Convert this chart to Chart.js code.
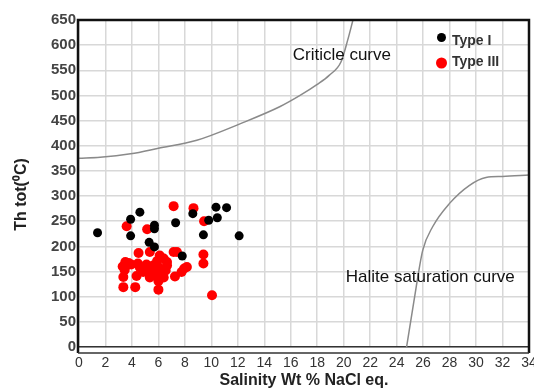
<!DOCTYPE html>
<html>
<head>
<meta charset="utf-8">
<script src="https://cdn.jsdelivr.net/npm/chart.js@4.4.0/dist/chart.umd.min.js"></script>
<style>
  html, body { margin: 0; padding: 0; background: #fff; }
  #wrap { width: 534px; height: 389px; }
</style>
</head>
<body>
<div id="wrap"><canvas id="chart" width="534" height="389"></canvas></div>
<script>
// Type I inclusions (salinity wt% NaCl eq. vs Th tot °C)
const typeISal = [1.4, 4.6, 3.9, 3.9, 5.7, 5.7, 5.3, 5.7, 7.3, 8.6, 10.35, 11.15, 9.8, 10.45, 9.4, 12.1, 7.8];
const typeITh  = [227, 268, 254, 221, 242, 235, 208, 199, 247, 265, 278, 277, 252, 257, 223, 221, 181];

// Type III inclusions
const typeIIISal = [7.15, 8.65, 9.45, 3.6, 5.15, 4.5, 5.35, 7.15, 7.4, 9.4, 9.4, 8.15, 7.95, 7.75, 7.25, 10.05,
  3.5, 3.75, 3.3, 3.6, 3.95, 3.45, 4.45, 4.6, 5.1, 5.25, 5.6, 5.9, 6.0, 6.4, 6.65, 6.65,
  4.85, 5.35, 5.75, 6.25, 6.4, 3.35, 4.35, 5.35, 6.0, 3.35, 4.25, 6.0, 6.1, 6.55, 5.5];
const typeIIITh  = [280, 276, 250, 240, 234, 187, 189, 189, 189, 184, 166, 159, 156, 149, 140, 103,
  169, 167, 160, 162, 164, 153, 166, 158, 164, 158, 162, 171, 159, 176, 169, 162,
  149, 149, 146, 149, 138, 139, 141, 138, 131, 119, 119, 114, 182, 152, 143];

// reference curves
const critSal = [0, 1.6, 3.9, 6, 8.9, 12.2, 15.2, 16.7, 18.0, 18.9, 19.8, 20.3, 20.7];
const critTh  = [375, 377, 384, 395, 411, 444, 478, 500, 522, 540, 567, 610, 650];
const haliteSal = [24.75, 25.3, 25.97, 26.72, 27.98, 29.48, 30.75, 32.0, 34];
const haliteTh  = [0, 90, 192, 239, 285, 321, 337, 339, 342];

const seriesLabels = ['Type I', 'Type III'];
const curveLabels = ['Criticle curve', 'Halite saturation curve'];
const xTitle = 'Salinity Wt % NaCl eq.';
const yTitle = 'Th tot(\u2070C)';

const zip = (xs, ys) => xs.map((v, i) => ({ x: v, y: ys[i] }));
const FONT = '"Liberation Sans", Arial, sans-serif';
Chart.defaults.font.family = FONT;

const framePlugin = {
  id: 'frame',
  afterDraw(chart) {
    const { ctx, chartArea: a, scales: { x, y } } = chart;
    ctx.save();

    // outer box (bottom sits a little below the zero line)
    ctx.strokeStyle = '#111';
    ctx.lineWidth = 2.5;
    ctx.beginPath();
    ctx.moveTo(a.left - 1, a.bottom + 6);
    ctx.lineTo(a.left - 1, a.top);
    ctx.lineTo(a.right, a.top);
    ctx.lineTo(a.right, a.bottom + 6);
    ctx.stroke();
    ctx.strokeStyle = '#333';
    ctx.lineWidth = 1.5;
    ctx.beginPath();
    ctx.moveTo(a.left - 1, a.bottom + 6);
    ctx.lineTo(a.right, a.bottom + 6);
    ctx.stroke();

    // curve names
    ctx.font = '17px ' + FONT;
    ctx.fillStyle = '#111';
    ctx.textAlign = 'left';
    ctx.textBaseline = 'middle';
    ctx.fillText(curveLabels[0], x.getPixelForValue(16.15), y.getPixelForValue(580));
    ctx.fillText(curveLabels[1], x.getPixelForValue(20.15), y.getPixelForValue(138));

    // legend inside the plot
    const sets = chart.data.datasets;
    ctx.font = 'bold 14px ' + FONT;
    [[37.5, 41, 4.5], [63, 62, 5.5]].forEach(([dotY, textY, r], i) => {
      ctx.beginPath();
      ctx.arc(441.5, dotY, r, 0, Math.PI * 2);
      ctx.fillStyle = sets[i].backgroundColor;
      ctx.fill();
      ctx.fillStyle = '#333';
      ctx.fillText(sets[i].label, 452, textY);
    });

    // y axis title
    ctx.translate(22, (a.top + a.bottom) / 2 + 11);
    ctx.rotate(-Math.PI / 2);
    ctx.font = 'bold 16px ' + FONT;
    ctx.fillStyle = '#222';
    ctx.textAlign = 'center';
    ctx.fillText(yTitle, 0, 0);
    ctx.restore();
  }
};

const curveStyle = {
  showLine: true,
  borderColor: '#8a8a8a',
  borderWidth: 1.5,
  pointRadius: 0,
  cubicInterpolationMode: 'monotone'
};

new Chart(document.getElementById('chart'), {
  type: 'scatter',
  data: {
    datasets: [
      { label: seriesLabels[0], data: zip(typeISal, typeITh), backgroundColor: '#000', borderWidth: 0, pointRadius: 4.5 },
      { label: seriesLabels[1], data: zip(typeIIISal, typeIIITh), backgroundColor: '#ff0000', borderWidth: 0, pointRadius: 5 },
      { label: curveLabels[0], data: zip(critSal, critTh), ...curveStyle },
      { label: curveLabels[1], data: zip(haliteSal, haliteTh), ...curveStyle }
    ]
  },
  options: {
    responsive: false,
    animation: false,
    layout: { padding: { top: 20, right: 4, bottom: 0, left: 0 } },
    plugins: { legend: { display: false }, tooltip: { enabled: false } },
    scales: {
      x: {
        type: 'linear',
        min: 0,
        max: 34,
        ticks: { stepSize: 2, padding: 8, color: '#333', font: { size: 14 }, maxRotation: 0 },
        grid: { color: '#d8d8d8', lineWidth: 1.5, drawTicks: false },
        border: { display: true, color: '#333', width: 1.5 },
        title: {
          display: true,
          text: xTitle,
          color: '#222',
          font: { size: 16, weight: 'bold', lineHeight: 1 },
          padding: { top: 0, bottom: 0 }
        },
        afterFit(scale) {
          scale.height = 42;
          scale.paddingLeft = 0;
          scale.paddingRight = 0;
        }
      },
      y: {
        min: 0,
        max: 650,
        ticks: { stepSize: 50, padding: 3, color: '#444', font: { size: 15, weight: 'bold' } },
        grid: { color: '#d8d8d8', lineWidth: 1.5, drawTicks: false },
        border: { display: false },
        afterFit(scale) {
          scale.width = 79;
          scale.paddingTop = 0;
          scale.paddingBottom = 0;
        }
      }
    }
  },
  plugins: [framePlugin]
});
</script>
</body>
</html>
